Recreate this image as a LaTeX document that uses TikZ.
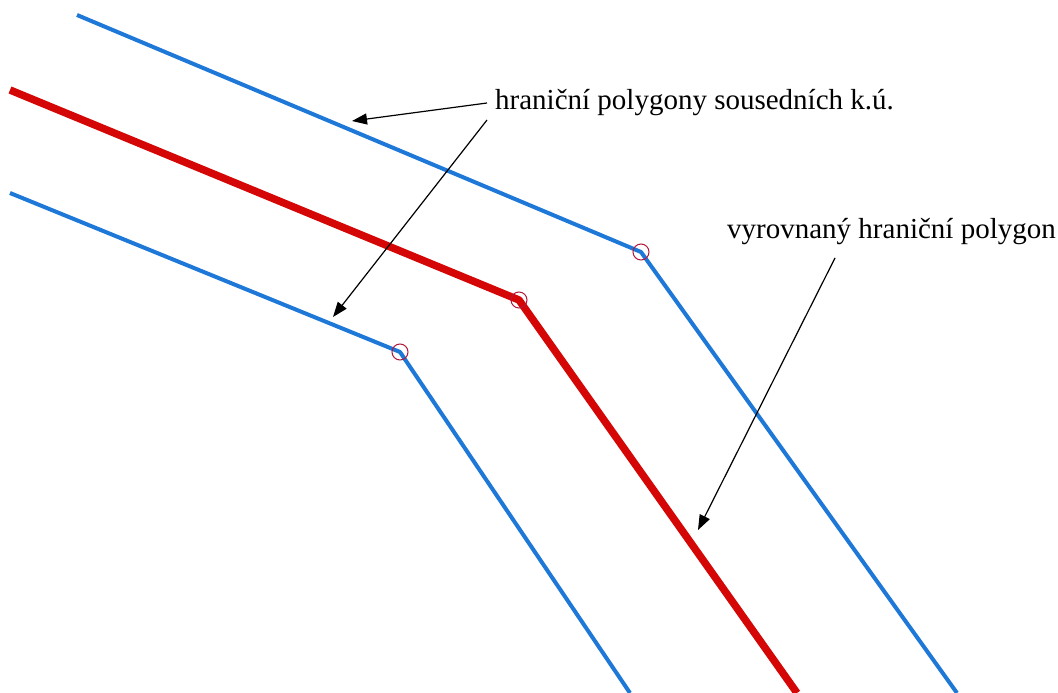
\documentclass[tikz,border=0pt]{standalone}
\usepackage{fontspec}
\setmainfont{Liberation Serif}
\usetikzlibrary{arrows.meta}
\definecolor{parcelblue}{RGB}{30,120,215}
\definecolor{axisred}{RGB}{212,6,6}
\definecolor{vertexmark}{RGB}{175,25,60}
\tikzset{
  neighbour/.style={draw=parcelblue, line width=4pt, line join=round},
  adjusted/.style={draw=axisred, line width=7.5pt, line join=round},
  vertexring/.style={draw=vertexmark, line width=1pt},
  pointer/.style={draw=black, line width=1.2pt, -{Triangle[length=15pt,width=11pt]}},
  caption/.style={font=\fontsize{29}{34}\selectfont, inner sep=0pt, anchor=base west}
}
\begin{document}
\begin{tikzpicture}[x=1pt,y=-1pt]
  \fill[white] (0,0) rectangle (1058,693);
  \useasboundingbox (0,0) rectangle (1058,693);

  % boundary polygons of the two neighbouring cadastral areas
  \coordinate (ua) at (77,15);
  \coordinate (uv) at (641,252);
  \coordinate (ub) at (957,693);
  \coordinate (la) at (10,193);
  \coordinate (lv) at (400,352);
  \coordinate (lb) at (630,693);
  % adjusted common boundary
  \coordinate (ra) at (10,90);
  \coordinate (rv) at (519,300);
  \coordinate (rb) at (797,693);

  \draw[neighbour] (ua) -- (uv) -- (ub);
  \draw[neighbour] (la) -- (lv) -- (lb);
  \draw[adjusted] (ra) -- (rv) -- (rb);

  \draw[vertexring] (uv) circle (8);
  \draw[vertexring] (rv) circle (8);
  \draw[vertexring] (lv) circle (8);

  % labels
  \node[caption] (neigh) at (495,110) {hraniční polygony sousedních k.ú.};
  \node[caption] (adj) at (727,238) {vyrovnaný hraniční polygon};

  \coordinate (n1) at (487,103);
  \coordinate (n2) at (487,120);
  \coordinate (a1) at (835,258);
  \coordinate (t1) at (352,121);
  \coordinate (t2) at (333,317);
  \coordinate (t3) at (698,530);

  \draw[pointer] (n1) -- (t1);
  \draw[pointer] (n2) -- (t2);
  \draw[pointer] (a1) -- (t3);
\end{tikzpicture}
\end{document}
